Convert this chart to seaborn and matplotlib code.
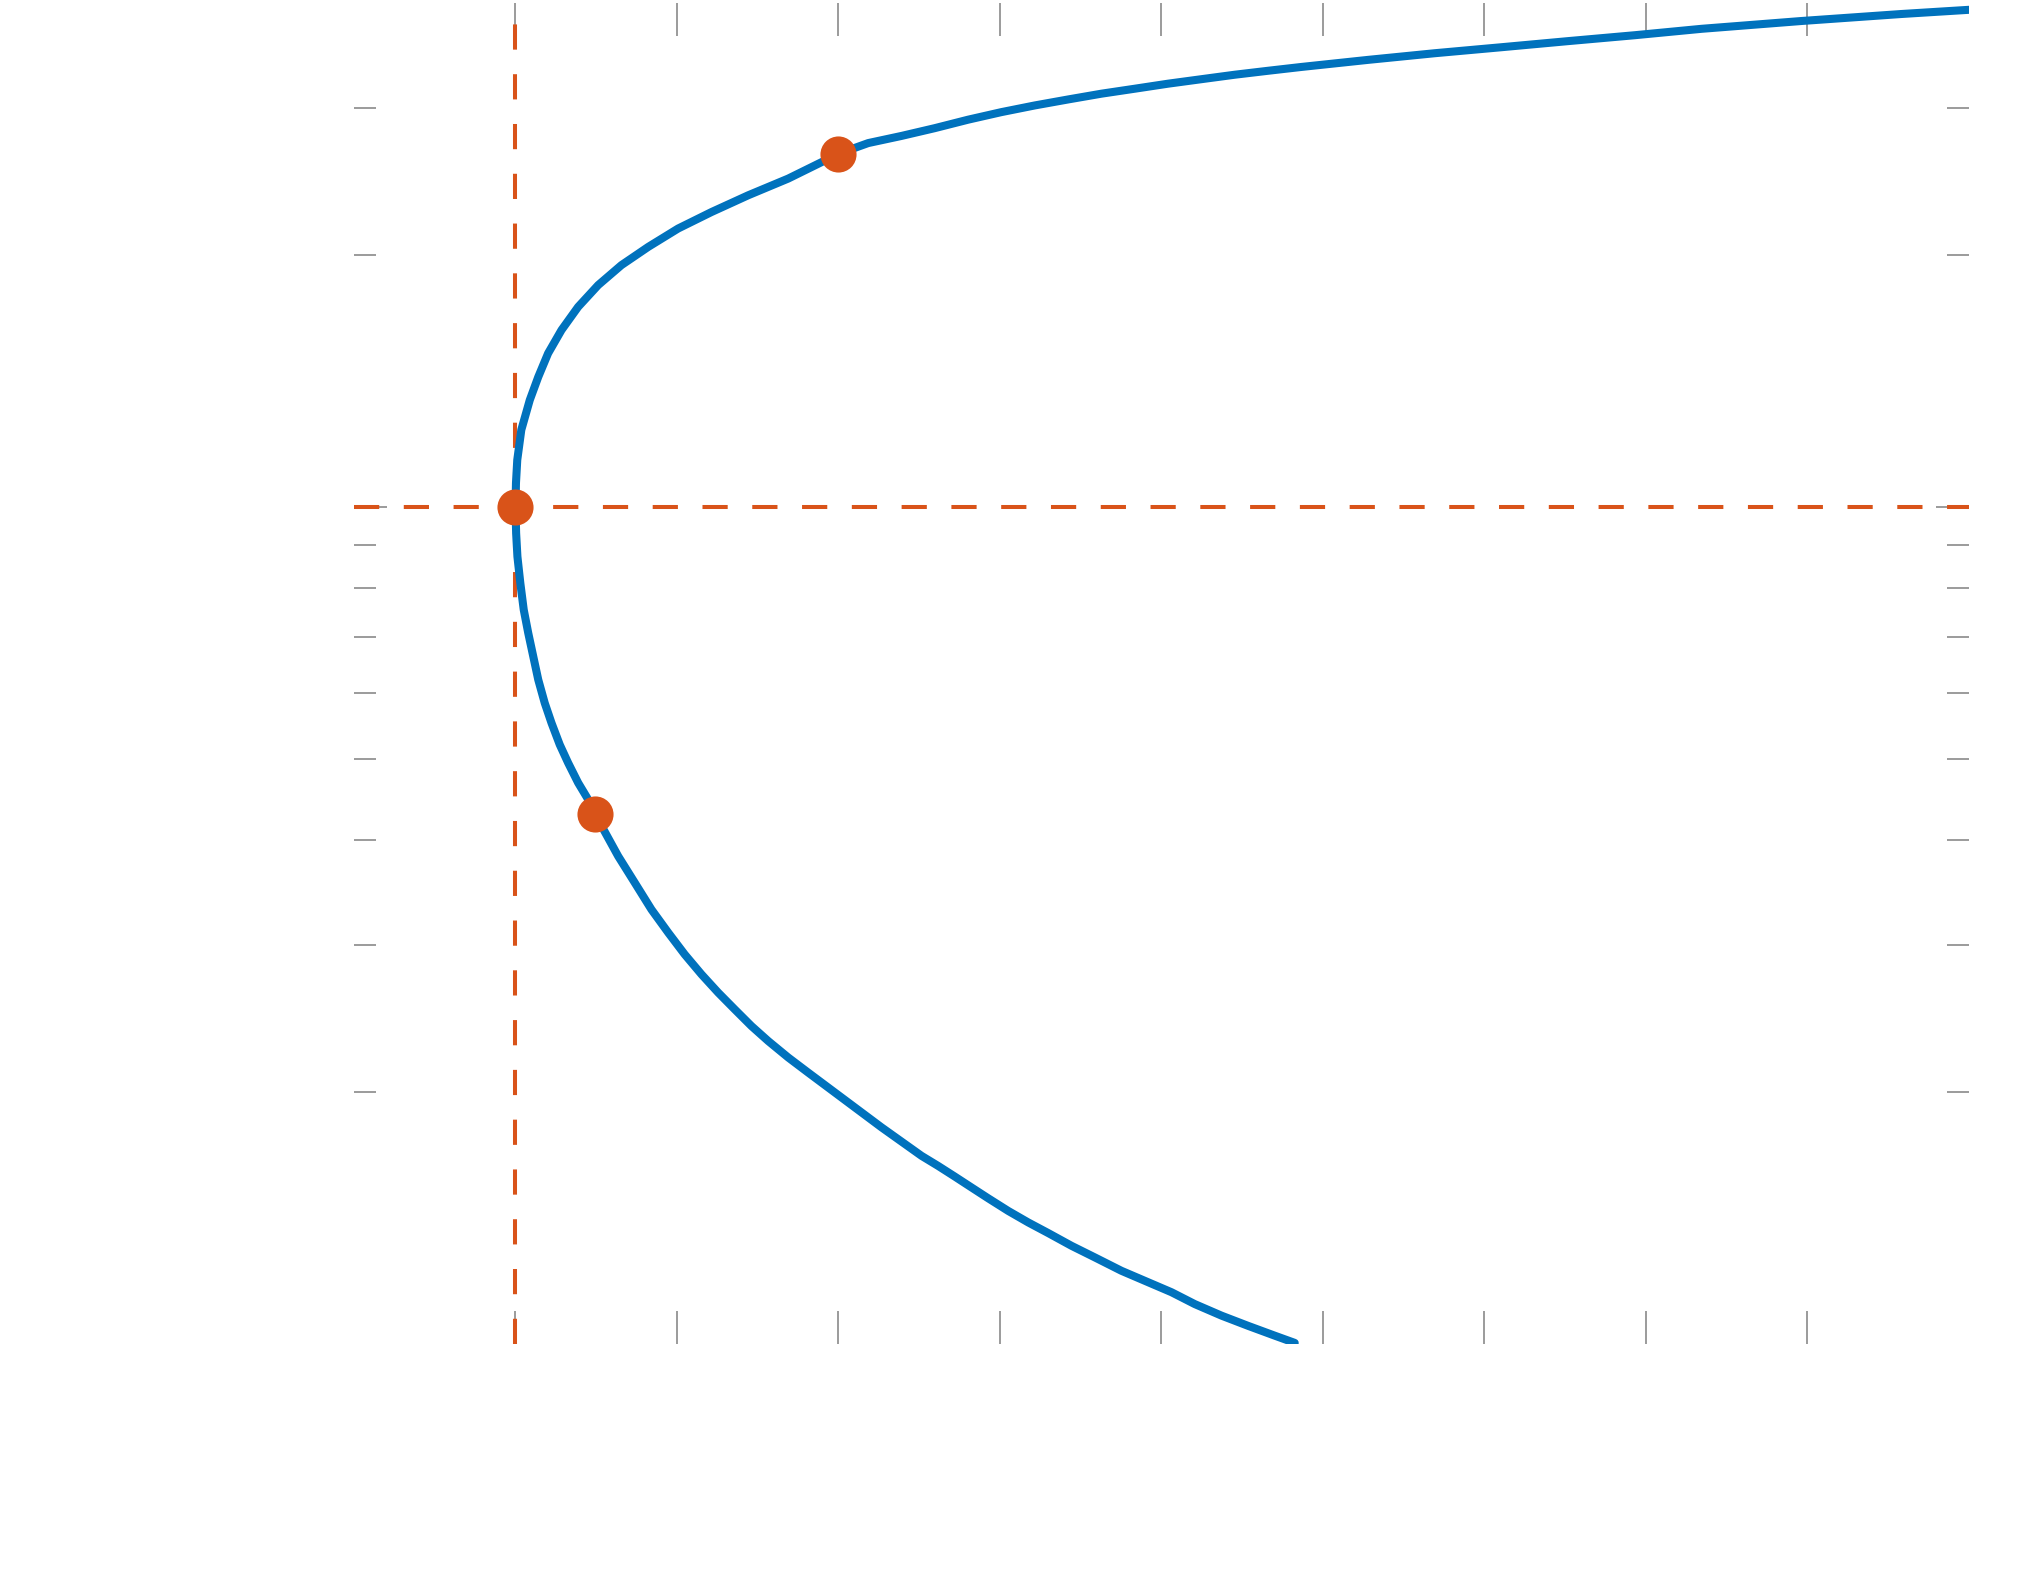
import numpy as np
import pandas as pd
import matplotlib
matplotlib.use("Agg")
import matplotlib.pyplot as plt
import seaborn as sns
from matplotlib.ticker import FixedLocator, NullFormatter

# curve: lower branch from its bottom end up to the vertex
lower_x = [4.825, 4.702, 4.537, 4.372, 4.206, 4.062, 3.918, 3.752, 3.587, 3.443,
           3.298, 3.175, 3.051, 2.927, 2.824, 2.720, 2.617, 2.514, 2.266, 2.019,
           1.936, 1.812, 1.689, 1.565, 1.461, 1.358, 1.255, 1.152, 1.048, 0.946,
           0.842, 0.739, 0.636, 0.545, 0.495, 0.450, 0.388, 0.326, 0.274, 0.223,
           0.181, 0.141, 0.110, 0.079, 0.051, 0.030, 0.012, 0.004, 0.0]
lower_y = [1.003, 1.023, 1.051, 1.081, 1.116, 1.153, 1.185, 1.223, 1.269, 1.310,
           1.357, 1.397, 1.442, 1.493, 1.538, 1.585, 1.632, 1.678, 1.815, 1.970,
           2.025, 2.110, 2.199, 2.301, 2.398, 2.510, 2.629, 2.764, 2.920, 3.100,
           3.304, 3.556, 3.826, 4.118, 4.302, 4.472, 4.682, 4.946, 5.200, 5.520,
           5.832, 6.217, 6.629, 7.069, 7.538, 8.110, 8.724, 9.303, 10.0]

# upper branch from the vertex to the right edge
upper_x = [0.003, 0.011, 0.036, 0.0885, 0.141, 0.202, 0.285, 0.388, 0.512, 0.656,
           0.822, 1.007, 1.214, 1.441, 1.689, 2.002, 2.184, 2.390, 2.596, 2.803,
           3.009, 3.216, 3.422, 3.628, 3.835, 4.041, 4.248, 4.454, 4.661, 4.867,
           5.280, 5.692, 6.105, 6.518, 6.931, 7.344, 7.963, 8.582, 9.0]
upper_y = [10.68, 11.38, 12.36, 13.42, 14.30, 15.26, 16.27, 17.34, 18.41, 19.45,
           20.45, 21.51, 22.51, 23.57, 24.68, 26.43, 27.21, 27.75, 28.35, 29.02,
           29.63, 30.18, 30.68, 31.17, 31.60, 32.04, 32.44, 32.84, 33.20, 33.55,
           34.21, 34.84, 35.42, 36.02, 36.61, 37.26, 38.07, 38.81, 39.26]

# highlighted points
point_x = [0.0, 0.495, 2.0]
point_y = [10.0, 4.30, 26.43]

# reference lines
ref_x = 0.0
ref_y = 10.0

x_lim = [-1, 9]
y_lim = [1, 40]
x_ticks = [0, 1, 2, 3, 4, 5, 6, 7, 8]
y_major = [10]
y_minor = [2, 3, 4, 5, 6, 7, 8, 9, 20, 30]

blue = "#0072BD"
orange = "#D95319"
tick_gray = "#808080"

sns.set_style("white")

fig = plt.figure(figsize=(20.17, 15.89), dpi=100)
ax = fig.add_axes([0.1755, 0.1542, 0.8007, 0.8439])

dash = (6.26, 6.1)
ax.axvline(ref_x, color=orange, lw=2.9, dashes=dash, zorder=1)
ax.axhline(ref_y, color=orange, lw=2.9, dashes=dash, zorder=1)

df = pd.DataFrame({"x": lower_x + upper_x, "y": lower_y + upper_y})
sns.lineplot(data=df, x="x", y="y", sort=False, estimator=None, color=blue,
             lw=5.8, ax=ax, zorder=2)

pts = pd.DataFrame({"x": point_x, "y": point_y})
sns.scatterplot(data=pts, x="x", y="y", color=orange, s=26 ** 2, linewidth=0,
                ax=ax, zorder=3)

ax.set_yscale("log")
ax.set_xlim(x_lim)
ax.set_ylim(y_lim)

ax.set_xticks(x_ticks)
ax.yaxis.set_major_locator(FixedLocator(y_major))
ax.yaxis.set_minor_locator(FixedLocator(y_minor))
ax.xaxis.set_major_formatter(NullFormatter())
ax.yaxis.set_major_formatter(NullFormatter())
ax.yaxis.set_minor_formatter(NullFormatter())

ax.tick_params(axis="both", which="major", direction="in", length=23.8, width=1.1,
               color=tick_gray, top=True, bottom=True, left=True, right=True)
ax.tick_params(axis="y", which="minor", direction="in", length=15.8, width=1.1,
               color=tick_gray, left=True, right=True)
ax.tick_params(axis="x", which="minor", bottom=False, top=False)

for s in ax.spines.values():
    s.set_visible(False)

ax.set_xlabel("")
ax.set_ylabel("")
ax.set_facecolor("white")
fig.patch.set_facecolor("white")

fig.savefig("out.png", dpi=100)
